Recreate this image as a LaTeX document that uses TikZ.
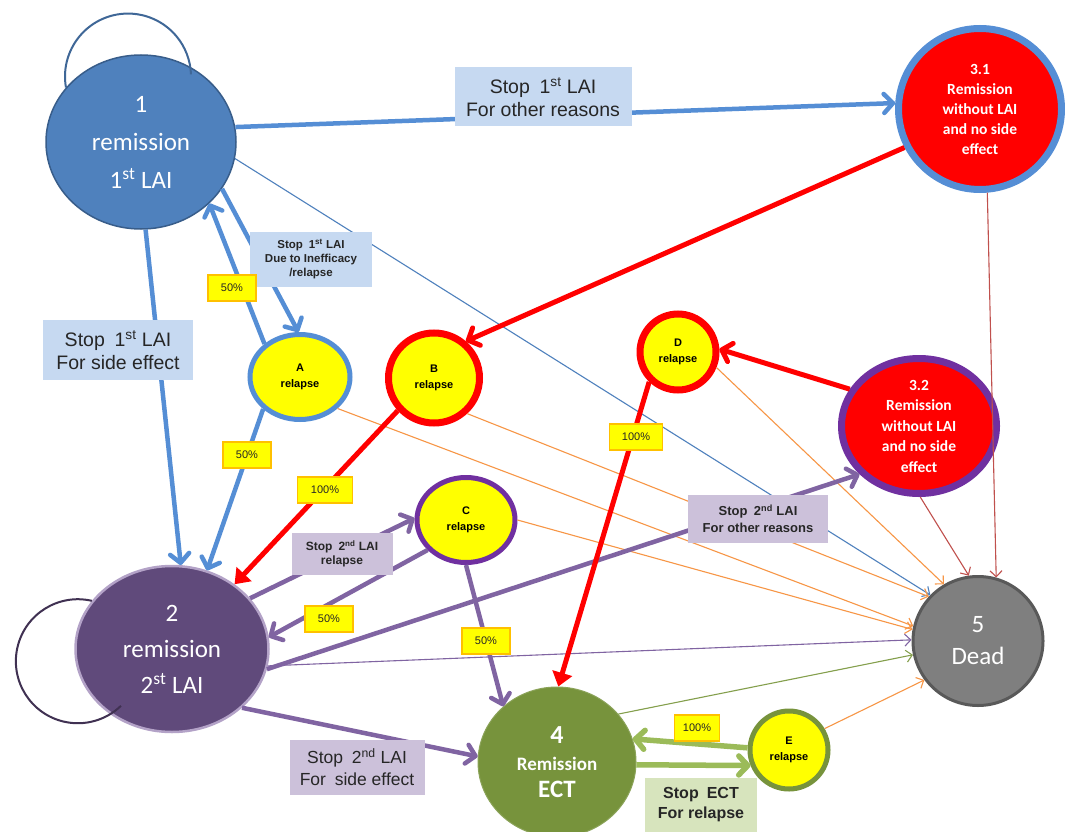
\documentclass[tikz,border=0pt]{standalone}
\usepackage{fontspec}
\setmainfont{Liberation Sans}
\newfontfamily\calfont{Carlito}
\usetikzlibrary{shapes.geometric,arrows.meta}

\definecolor{nodeblue}{HTML}{4F81BD}
\definecolor{nodeblueedge}{HTML}{385D8A}
\definecolor{arrowblue}{HTML}{558ED5}
\definecolor{thinblue}{HTML}{4F81BD}
\definecolor{boxblue}{HTML}{C6D9F1}
\definecolor{nodepurple}{HTML}{604A7B}
\definecolor{edgepurple}{HTML}{B3A2C7}
\definecolor{looppurple}{HTML}{403152}
\definecolor{arrowpurple}{HTML}{8064A2}
\definecolor{boxpurple}{HTML}{CCC1DA}
\definecolor{deeppurple}{HTML}{7030A0}
\definecolor{nodegreen}{HTML}{77933C}
\definecolor{arrowgreen}{HTML}{9BBB59}
\definecolor{boxgreen}{HTML}{D7E4BD}
\definecolor{deadgrey}{HTML}{7F7F7F}
\definecolor{deadedge}{HTML}{595959}
\definecolor{thinorange}{HTML}{F79646}
\definecolor{thinbrown}{HTML}{C0504D}
\definecolor{relyellow}{HTML}{FFFF00}
\definecolor{pctedge}{HTML}{FFC000}
\definecolor{labeltext}{HTML}{262626}

\begin{document}
\begin{tikzpicture}[x=1pt,y=-1pt,
  state/.style={ellipse, inner sep=0pt, align=center},
  bigstate/.style={state, text=white},
  relapsestate/.style={state, fill=relyellow, text=black,
    font=\bfseries\fontsize{11}{16}\selectfont},
  lblbox/.style={rectangle, inner sep=0pt, align=center, text=labeltext},
  pct/.style={rectangle, fill=relyellow, draw=pctedge, line width=1.2pt,
    minimum width=48pt, minimum height=26pt, inner sep=0pt,
    text=labeltext, font=\fontsize{11}{13}\selectfont},
  thickarrow/.style={line width=4.5pt, line join=round,
    -{Straight Barb[length=9pt,width=19pt,line cap=round,line join=round]}},
  fillarrow/.style={line width=5pt, -{Triangle[length=14pt,width=20pt]}},
  thinarrow/.style={line width=1.1pt,
    -{Straight Barb[length=6pt,width=12pt]}},
]
\fill[white] (0,0) rectangle (1065,832);
\useasboundingbox (0,0) rectangle (1065,832);

% ---- states ----
\node[bigstate, fill=nodeblue, draw=nodeblueedge, line width=1.5pt,
  minimum width=190pt, minimum height=174pt,
  font=\calfont\fontsize{25}{38}\selectfont] (n1) at (141,142)
  {1\\remission\\1\textsuperscript{st} LAI};
\node[bigstate, fill=red, draw=arrowblue, line width=7pt,
  minimum width=163pt, minimum height=161pt,
  font=\calfont\bfseries\fontsize{15.5}{20}\selectfont] (n31) at (980,109)
  {3.1\\Remission\\without LAI\\and no side\\effect};
\node[bigstate, fill=red, draw=deeppurple, line width=7pt,
  minimum width=155pt, minimum height=135pt,
  font=\calfont\bfseries\fontsize{15.5}{20.5}\selectfont] (n32) at (919,426)
  {3.2\\Remission\\without LAI\\and no side\\effect};
\node[bigstate, fill=nodepurple, draw=edgepurple, line width=2.5pt,
  minimum width=193pt, minimum height=166pt,
  font=\calfont\fontsize{25}{36}\selectfont] (n2) at (172,649)
  {2\\remission\\2\textsuperscript{st} LAI};
\node[bigstate, fill=nodegreen, draw=nodegreen!85!white, line width=1pt,
  minimum width=158pt, minimum height=150pt,
  font=\calfont\bfseries\fontsize{19}{27}\selectfont] (n4) at (557,762)
  {{\fontsize{26}{27}\selectfont 4}\\Remission\\{\fontsize{25}{27}\selectfont ECT}};
\node[bigstate, fill=deadgrey, draw=deadedge, line width=3pt,
  minimum width=130pt, minimum height=129pt,
  font=\calfont\fontsize{25}{32}\selectfont] (n5) at (978,641)
  {5\\Dead};

\node[relapsestate, draw=arrowblue, line width=5pt,
  minimum width=100pt, minimum height=85pt] (A) at (300,377) {A\\relapse};
\node[relapsestate, draw=red, line width=7pt,
  minimum width=91pt, minimum height=90pt] (B) at (434,378) {B\\relapse};
\node[relapsestate, draw=deeppurple, line width=5pt,
  minimum width=98pt, minimum height=85pt] (C) at (466,520) {C\\relapse};
\node[relapsestate, draw=red, line width=7pt,
  minimum width=76pt, minimum height=76pt] (D) at (678,352) {D\\relapse};
\node[relapsestate, draw=nodegreen, line width=5pt,
  minimum width=78pt, minimum height=78pt] (E) at (789,750) {E\\relapse};

% ---- self loops ----
\draw[nodeblue!80!black, line width=2pt] (n1.144) arc[start angle=170, end angle=358, radius=63];
\draw[looppurple, line width=2pt] (n2.149) arc[start angle=-77, end angle=-314, radius=62];

% ---- thin transitions to death ----
\draw[thinarrow, thinblue] (n1.-10) -- (n5.136);
\draw[thinarrow, thinorange] (A.-40) -- (n5.167);
\draw[thinarrow, thinorange] (B.-47) -- (n5.138);
\draw[thinarrow, thinorange] (C.0) -- (n5.170);
\draw[thinarrow, thinorange] (D.-22) -- (n5.121);
\draw[thinarrow, thinorange] (E.31) -- (n5.216);
\draw[thinarrow, thinbrown] (n31.-85) -- (n5.74);
\draw[thinarrow, thinbrown] (n32.-89) -- (n5.98);
\draw[thinarrow, arrowpurple] (n2.-10) -- (n5.179);
\draw[thinarrow, arrowgreen!85!black] (n4.38) -- (n5.192);

% ---- first LAI ----
\draw[thickarrow, arrowblue] (n1.9) -- (n31.176);
\draw[thickarrow, arrowblue] (n1.-87) -- (n2.84);
\draw[thickarrow, arrowblue] (n1.-30) -- (A.92);
\draw[thickarrow, arrowblue] (A.137) -- (n1.-42);
\draw[thickarrow, arrowblue] (A.-139) -- (n2.66);

% ---- second LAI ----
\draw[thickarrow, arrowpurple] (n2.33) -- (C.178);
\draw[thickarrow, arrowpurple] (C.218) -- (n2.7);
\draw[thickarrow, arrowpurple] (C.-90) -- (n4.134);
\draw[thickarrow, arrowpurple] (n2.-12) -- (n32.219);
\draw[thickarrow, arrowpurple] (n2.-40) -- (n4.176);

% ---- remission without LAI ----
\draw[fillarrow, red] (B.222) -- (n2.46);
\draw[thickarrow, red, line width=5pt] (n31.207) -- (B.49);
\draw[thickarrow, red, line width=5pt] (n32.152) -- (D.4);
\draw[fillarrow, red] (D.-134) -- (n4.89);

% ---- ECT ----
\draw[thickarrow, arrowgreen, line width=5.5pt] (n4.-2) -- (E.202);
\draw[thickarrow, arrowgreen, line width=5.5pt] (E.177) -- (n4.17);

% ---- labels ----
\node[lblbox, fill=boxblue, minimum width=177pt, minimum height=59pt,
  font=\fontsize{19.5}{23}\selectfont] (l1) at (543,97)
  {Stop\enspace 1\textsuperscript{st} LAI\\For other reasons};
\node[lblbox, fill=boxblue, minimum width=150pt, minimum height=60pt,
  font=\fontsize{19.5}{23}\selectfont] (l2) at (118,350)
  {Stop\enspace 1\textsuperscript{st} LAI\\For side effect};
\node[lblbox, fill=boxblue, minimum width=122pt, minimum height=55pt,
  font=\bfseries\fontsize{11.5}{14}\selectfont] (l3) at (311,259)
  {Stop\enspace 1\textsuperscript{st} LAI\\Due to Inefficacy\\/relapse};
\node[lblbox, fill=boxpurple, minimum width=101pt, minimum height=42pt,
  font=\bfseries\fontsize{12}{14}\selectfont] (l4) at (342,554)
  {Stop\enspace 2\textsuperscript{nd} LAI\\relapse};
\node[lblbox, fill=boxpurple, minimum width=140pt, minimum height=48pt,
  font=\bfseries\fontsize{13}{17}\selectfont] (l5) at (758,519)
  {Stop\enspace 2\textsuperscript{nd} LAI\\For other reasons};
\node[lblbox, fill=boxpurple, minimum width=135pt, minimum height=55pt,
  font=\fontsize{17.5}{22}\selectfont] (l6) at (357,767)
  {Stop\enspace 2\textsuperscript{nd} LAI\\For\enspace side effect};
\node[lblbox, fill=boxgreen, minimum width=112pt, minimum height=54pt,
  font=\bfseries\fontsize{16}{20}\selectfont] (l7) at (701,805)
  {Stop\enspace ECT\\For relapse};

\node[pct] (p1) at (232,288) {50\%};
\node[pct] (p2) at (247,455) {50\%};
\node[pct, minimum width=55pt] (p3) at (325,490) {100\%};
\node[pct] (p4) at (329,619) {50\%};
\node[pct] (p5) at (486,641) {50\%};
\node[pct, minimum width=53pt] (p6) at (636,437) {100\%};
\node[pct, minimum width=45pt] (p7) at (697,728) {100\%};
\end{tikzpicture}
\end{document}
